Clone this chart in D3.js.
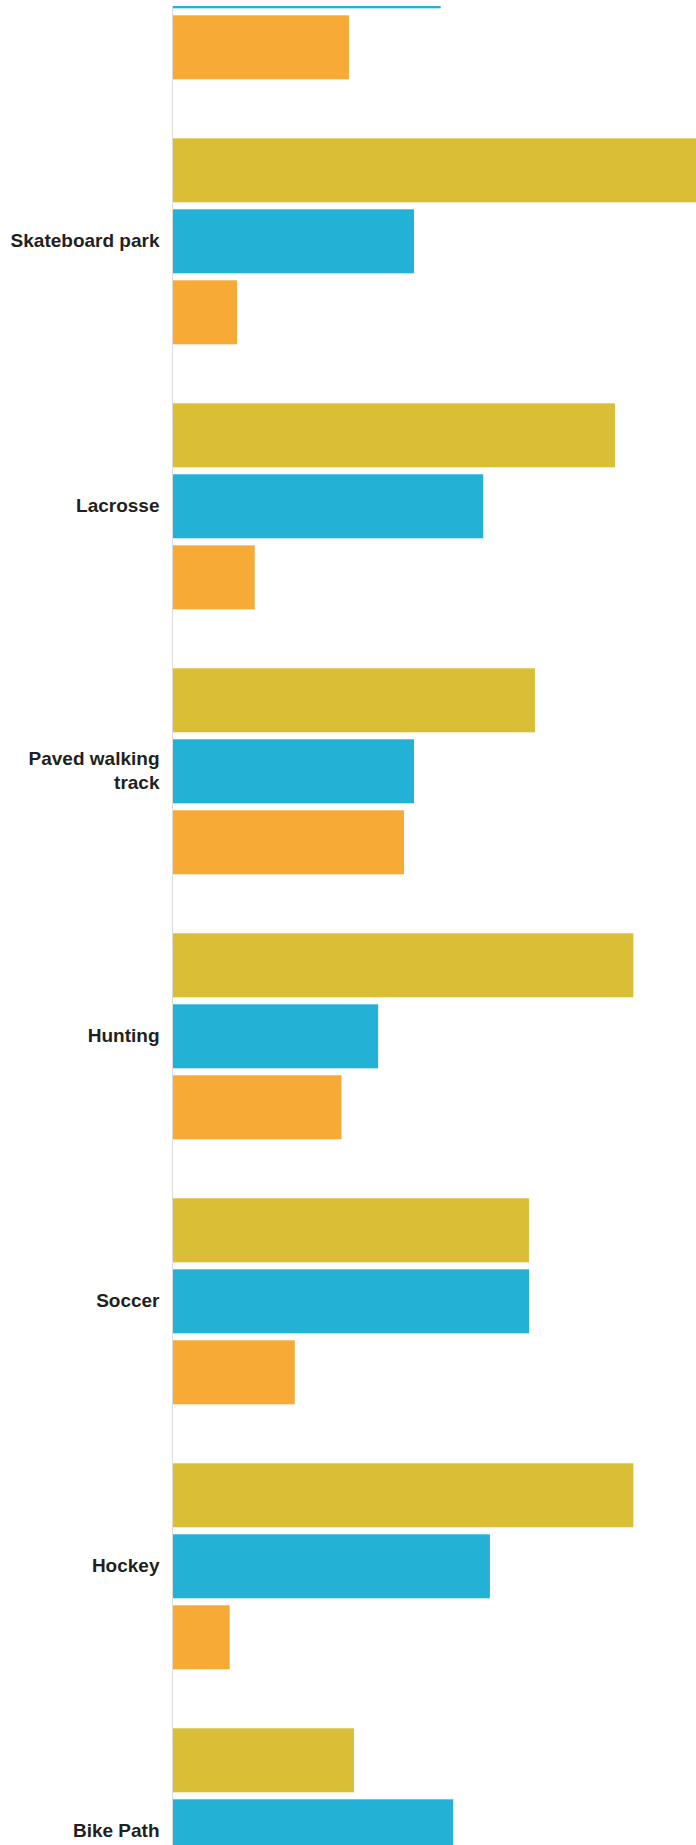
<!DOCTYPE html>
<html>
<head>
<meta charset="utf-8">
<script src="https://cdn.jsdelivr.net/npm/d3@7"></script>
<style>
  html, body { margin: 0; padding: 0; background: #ffffff; }
  svg { display: block; }
</style>
</head>
<body>
<svg id="chart" width="696" height="1845"></svg>
<script>
// Facility categories, top to bottom (the first group continues above the page edge)
const categories = ["", "Skateboard park", "Lacrosse", "Paved walking track", "Hunting", "Soccer", "Hockey", "Bike Path"];

// Share of responses (%) for each of the three answer groups
const seriesKeys   = ["first", "second", "third"];
const firstValues  = [46.8, 63.4, 53.0, 43.4, 55.2, 42.7, 55.2, 21.7];
const secondValues = [32.1, 28.9, 37.2, 28.9, 24.6, 42.7, 38.0, 33.6];
const thirdValues  = [21.1,  7.7,  9.8, 27.7, 20.2, 14.6,  6.8, 44.7];
const seriesColors = ["#dabe36", "#23b2d6", "#f8aa37"];

const rows = categories.map((name, i) => ({
  index: i,
  name,
  first: firstValues[i],
  second: secondValues[i],
  third: thirdValues[i]
}));

const width = 696, height = 1845;
const axisX = 173;
const plotTop = 6;
const svg = d3.select("#chart");

// Plot area starts a few pixels below the top edge of the page
svg.append("defs").append("clipPath")
  .attr("id", "plot-clip")
  .append("rect")
  .attr("x", 0).attr("y", plotTop)
  .attr("width", width).attr("height", height - plotTop);

// Horizontal value scale: 0–100 %
const x = d3.scaleLinear().domain([0, 100]).range([axisX, axisX + 834]);

// Category groups and bars within each group
const groupStep = 265;
const groupInnerPad = 59 / 265;
const y0 = d3.scaleBand()
  .domain(rows.map(d => d.index))
  .range([138.3 - groupStep, 138.3 - groupStep + groupStep * (rows.length - groupInnerPad)])
  .paddingInner(groupInnerPad)
  .paddingOuter(0);

const y1 = d3.scaleBand()
  .domain(seriesKeys)
  .range([0, y0.bandwidth()])
  .paddingInner(7 / 71)
  .paddingOuter(0);

const color = d3.scaleOrdinal().domain(seriesKeys).range(seriesColors);

const plot = svg.append("g").attr("clip-path", "url(#plot-clip)");

// Bars
const groups = plot.append("g")
  .selectAll("g")
  .data(rows)
  .join("g")
  .attr("transform", d => `translate(0,${y0(d.index)})`);

groups.selectAll("rect")
  .data(d => seriesKeys.map(k => ({ key: k, value: d[k] })))
  .join("rect")
  .attr("x", x(0))
  .attr("y", d => y1(d.key))
  .attr("width", d => x(d.value) - x(0))
  .attr("height", y1.bandwidth())
  .attr("fill", d => color(d.key));

// Baseline axis
plot.append("line")
  .attr("x1", axisX - 0.5).attr("x2", axisX - 0.5)
  .attr("y1", plotTop).attr("y2", height)
  .attr("stroke", "#dcdcdc")
  .attr("stroke-width", 1);

// Category labels, wrapped to fit left of the axis
const labelX = axisX - 13.5;
const maxLabelWidth = 155;
const lineHeight = 23.6;

const labels = svg.append("g")
  .attr("font-family", "'Liberation Sans', Arial, sans-serif")
  .attr("font-weight", "bold")
  .attr("font-size", "19px")
  .attr("fill", "#231f20")
  .attr("text-anchor", "end");

rows.filter(d => d.name).forEach(d => {
  const center = y0(d.index) + y0.bandwidth() / 2;
  const text = labels.append("text").attr("x", labelX);
  const words = d.name.split(" ");
  const lines = [];
  let current = [];
  const probe = labels.append("text").attr("x", labelX);
  words.forEach(w => {
    const trial = current.concat(w).join(" ");
    probe.text(trial);
    if (current.length && probe.node().getComputedTextLength() > maxLabelWidth) {
      lines.push(current.join(" "));
      current = [w];
    } else {
      current.push(w);
    }
  });
  lines.push(current.join(" "));
  probe.remove();
  const n = lines.length;
  lines.forEach((line, k) => {
    text.append("tspan")
      .attr("x", labelX)
      .attr("y", center + 5.8 + (k - (n - 1) / 2) * lineHeight)
      .text(line);
  });
});
</script>
</body>
</html>
